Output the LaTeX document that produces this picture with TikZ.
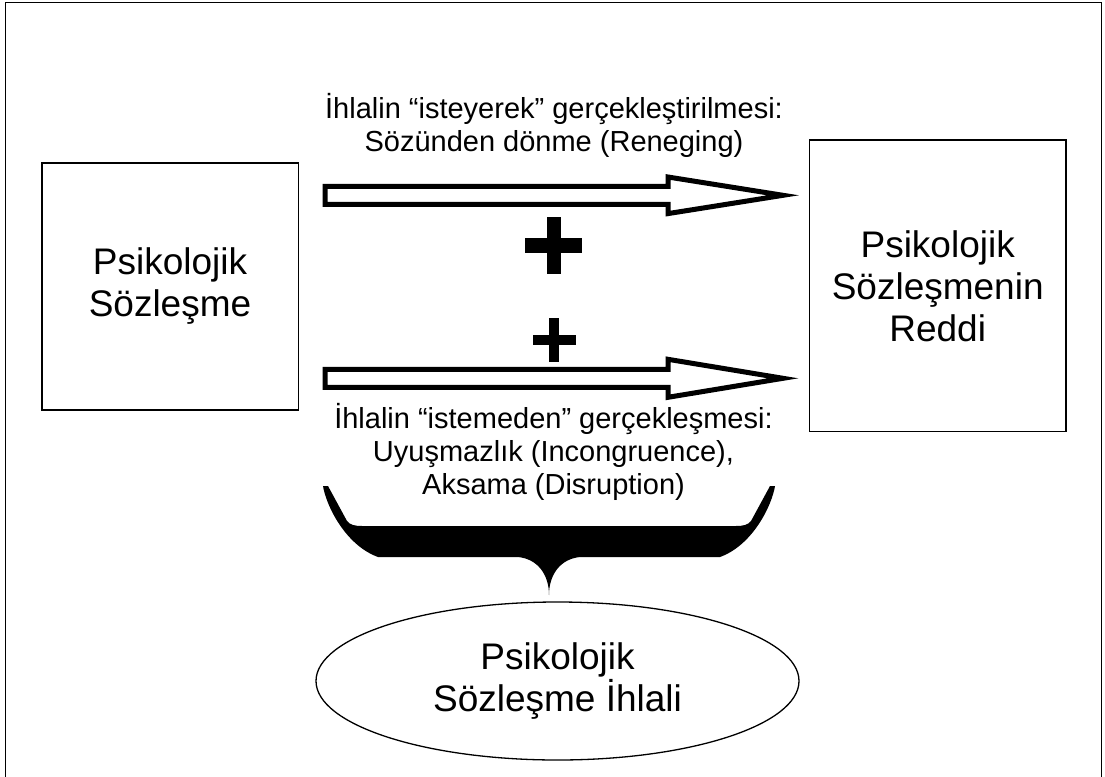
\documentclass[tikz,border=0pt]{standalone}
\usepackage{fontspec}
\setmainfont{Liberation Sans}
\usetikzlibrary{shapes.geometric}
\begin{document}
\begin{tikzpicture}[x=1pt,y=-1pt,
  box/.style={draw, line width=1.3pt, inner sep=0pt, align=center, font=\fontsize{37}{42}\selectfont},
  oval/.style={draw, ellipse, line width=1.3pt, inner sep=0pt, align=center, font=\fontsize{37}{42}\selectfont},
  small/.style={align=center, inner sep=0pt, font=\fontsize{29}{33}\selectfont},
  blockarrow/.style={draw, line width=5pt, fill=white, line join=miter, miter limit=10},
  plusbar/.style={fill=black}]
\useasboundingbox (0,0) rectangle (1105,776);
% outer frame
\draw[line width=1.5pt] (5.5,790) -- (5.5,2.5) -- (1101.5,2.5) -- (1101.5,790);
% boxes
\node[box, minimum width=256.3pt, minimum height=247pt] (L) at (170,286.5) {Psikolojik\\Sözleşme};
\node[box, minimum width=256.7pt, minimum height=291.7pt] (R) at (937.7,285.9) {Psikolojik\\Sözleşmenin\\Reddi};
\node[oval, minimum width=483pt, minimum height=158pt] (E) at (557.5,681) {Psikolojik\\Sözleşme İhlali};
% labels
\node[small] (T) at (554,125.5) {İhlalin “isteyerek” gerçekleştirilmesi:\\Sözünden dönme (Reneging)};
\node[small] (B) at (553.5,452) {İhlalin “istemeden” gerçekleşmesi:\\Uyuşmazlık (Incongruence),\\Aksama (Disruption)};
% block arrows
\coordinate (a1) at (325,195.3);
\coordinate (a2) at (325,378.3);
\draw[blockarrow] (a1) ++(0,-9) -- ++(343,0) -- ++(0,-9.3) -- ++(115,18.3) -- ++(-115,18.3) -- ++(0,-9.3) -- ++(-343,0) -- cycle;
\draw[blockarrow] (a2) ++(0,-9) -- ++(343,0) -- ++(0,-10) -- ++(115,19) -- ++(-115,19) -- ++(0,-10) -- ++(-343,0) -- cycle;
% plus signs
\coordinate (p1) at (553.7,245.3);
\coordinate (p2) at (554.2,340);
\fill[plusbar] (p1) ++(-28.5,-7.2) rectangle ++(57,14.4);
\fill[plusbar] (p1) ++(-7,-28.5) rectangle ++(14,57);
\fill[plusbar] (p2) ++(-21.7,-5.3) rectangle ++(43.4,10.6);
\fill[plusbar] (p2) ++(-5.2,-21.7) rectangle ++(10.4,43.4);
% brace
\fill (323,486) -- (328,486) -- (347,521) .. controls (350,525) and (355,526) .. (362,526)
  -- (736,526) .. controls (743,526) and (748,525) .. (751,521) -- (770,486) -- (775,486)
  .. controls (772,505) and (753,545) .. (720,557) -- (580,557)
  .. controls (560,559) and (549,575) .. (549,595)
  .. controls (549,575) and (538,559) .. (518,557) -- (378,557)
  .. controls (345,545) and (326,505) .. (323,486) -- cycle;
\end{tikzpicture}
\end{document}
